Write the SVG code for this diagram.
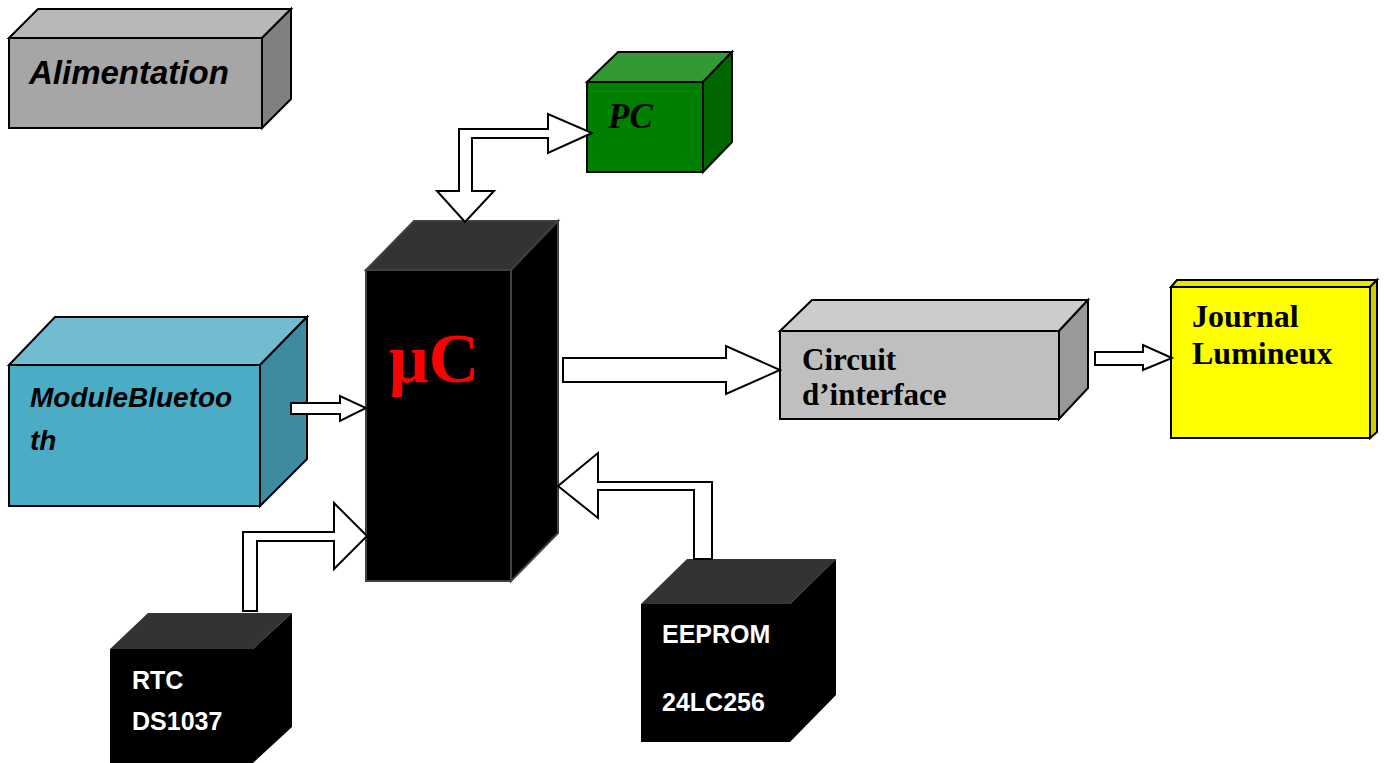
<svg xmlns="http://www.w3.org/2000/svg" width="1384" height="763" viewBox="0 0 1384 763">
<style>
.edge{stroke:#000;stroke-width:2;stroke-linejoin:miter}
.arrow{fill:#fff;stroke:#000;stroke-width:2;stroke-linejoin:miter}
.sansbi{font-family:"Liberation Sans",Arial,sans-serif;font-weight:bold;font-style:italic;fill:#000}
.sansw{font-family:"Liberation Sans",Arial,sans-serif;font-weight:bold;fill:#fff;font-size:25px}
.serifb{font-family:"Liberation Serif","Times New Roman",serif;font-weight:bold;fill:#000}
</style>
<rect width="1384" height="763" fill="#fff"/>
<g id="alimentation">
<polygon class="edge" fill="#b8b8b8" points="9,38 38,9 291,9 262,38"/>
<polygon class="edge" fill="#808080" points="262,38 291,9 291,99 262,128"/>
<rect class="edge" fill="#a6a6a6" x="9" y="38" width="253" height="90"/>
<text class="sansbi" x="29" y="84" font-size="33">Alimentation</text>
</g>
<g id="pc">
<polygon class="edge" fill="#339933" points="587,82 618,52 732,52 703,82"/>
<polygon class="edge" fill="#006600" points="703,82 732,52 732,142 703,172"/>
<rect class="edge" fill="#008000" x="587" y="82" width="116" height="90"/>
<text class="serifb" x="608" y="128" font-size="35" font-style="italic">PC</text>
</g>
<g id="uc">
<polygon fill="#333333" stroke="#404040" stroke-width="2" points="366,270 414,221 558,221 511,270"/>
<polygon fill="#000" stroke="#404040" stroke-width="2" points="511,270 558,221 558,533 511,581"/>
<rect fill="#000" stroke="#404040" stroke-width="2" x="366" y="270" width="145" height="311"/>
<text x="389" y="382" font-family="'Liberation Serif','Times New Roman',serif" font-weight="bold" font-size="70" fill="#ff0000">μC</text>
</g>
<g id="bluetooth">
<polygon class="edge" fill="#72bcd2" points="9,365 55,317 307,317 260,365"/>
<polygon class="edge" fill="#3d8ba0" points="260,365 307,317 307,459 260,506"/>
<rect class="edge" fill="#4bacc6" x="9" y="365" width="251" height="141"/>
<text class="sansbi" x="30" y="407" font-size="28">ModuleBluetoo</text>
<text class="sansbi" x="30" y="450" font-size="28">th</text>
</g>
<g id="circuit">
<polygon class="edge" fill="#cccccc" points="780,331 812,300 1088,300 1059,331"/>
<polygon class="edge" fill="#999999" points="1059,331 1088,300 1088,388 1059,419"/>
<rect class="edge" fill="#bfbfbf" x="780" y="331" width="279" height="88"/>
<text class="serifb" x="802" y="370" font-size="31">Circuit</text>
<text class="serifb" x="802" y="405" font-size="31">d’interface</text>
</g>
<g id="journal">
<polygon class="edge" fill="#e6e600" points="1171,287 1177,280 1377,280 1370,287"/>
<polygon class="edge" fill="#cccc00" points="1370,287 1377,280 1377,432 1370,438"/>
<rect class="edge" fill="#ffff00" x="1171" y="287" width="199" height="151"/>
<text class="serifb" x="1192" y="327" font-size="32">Journal</text>
<text class="serifb" x="1192" y="364" font-size="32">Lumineux</text>
</g>
<g id="rtc">
<polygon fill="#333333" points="110,649 148,613 292,613 253,649"/>
<polygon fill="#000" points="253,649 292,613 292,727 253,763"/>
<rect fill="#000" x="110" y="649" width="143" height="114"/>
<text class="sansw" x="132" y="689">RTC</text>
<text class="sansw" x="132" y="730">DS1037</text>
</g>
<g id="eeprom">
<polygon fill="#333333" points="641,604 687,559 836,559 790,604"/>
<polygon fill="#000" points="790,604 836,559 836,695 790,742"/>
<rect fill="#000" x="641" y="604" width="149" height="138"/>
<text class="sansw" x="662" y="643">EEPROM</text>
<text class="sansw" x="662" y="711">24LC256</text>
</g>
<g id="connectors">
<polygon class="arrow" points="592,133 548,153 548,138 472,138 472,191 494,191 465,222 437,191 459,191 459,129 548,129 548,114"/>
<polygon class="arrow" points="291,403 340,403 340,396 366,408 340,421 340,414 291,414"/>
<polygon class="arrow" points="243,611 243,532 334,532 334,503 367,536 334,569 334,541 257,541 257,611"/>
<polygon class="arrow" points="712,559 712,482 598,482 598,453 558,486 598,518 598,490 694,490 694,559"/>
<polygon class="arrow" points="563,358 726,358 726,346 780,370 726,394 726,382 563,382"/>
<polygon class="arrow" points="1095,352 1143,352 1143,345 1172,358 1143,370 1143,365 1095,365"/>
</g>
</svg>
